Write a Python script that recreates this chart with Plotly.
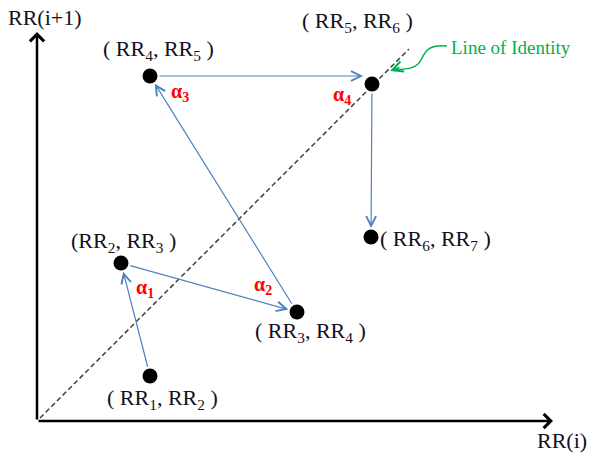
import plotly.graph_objects as go

# ---- data (diagram coordinates: RR(i) on x, RR(i+1) on y) ----
rr_i = [113, 84, 260, 113, 335, 334]
rr_i1 = [45, 158, 109, 345, 337, 184]
point_labels = [
    "( RR<sub>1</sub>, RR<sub>2</sub> )",
    "(RR<sub>2</sub>, RR<sub>3</sub> )",
    "( RR<sub>3</sub>, RR<sub>4</sub> )",
    "( RR<sub>4</sub>, RR<sub>5</sub> )",
    "( RR<sub>5</sub>, RR<sub>6</sub> )",
    "( RR<sub>6</sub>, RR<sub>7</sub> )",
]
angle_labels = ["α<sub>1</sub>", "α<sub>2</sub>", "α<sub>3</sub>", "α<sub>4</sub>"]
identity_span = [3, 372]
x_axis_max = 516
y_axis_max = 389
x_title = "RR(i)"
y_title = "RR(i+1)"
identity_title = "Line of Identity"

# ---- styling / placement (pixel offsets) ----
label_shift = [(12, -23), (2, 21), (13, -20), (8, 26), (-15, 62), (64, -3)]
angle_shift = [(24, -25), (-34, 27), (30, -16), (-30, -11)]  # at vertices 2..5
BLUE = "#4f81bd"
RED = "#ff0000"
GREEN = "#00b050"
TXT = "#111122"
SERIF = "Liberation Serif, Times New Roman, serif"

fig = go.Figure()

# identity line
fig.add_trace(go.Scatter(
    x=identity_span, y=identity_span, mode="lines",
    line=dict(color="#404040", width=1.5, dash="5px,3px"),
    hoverinfo="skip", showlegend=False))

# points
fig.add_trace(go.Scatter(
    x=rr_i, y=rr_i1, mode="markers",
    marker=dict(color="black", size=15),
    hoverinfo="skip", showlegend=False))

ann = []
# axes with arrows
ann.append(dict(x=0, y=y_axis_max, ax=0, ay=0, xref="x", yref="y", axref="x", ayref="y",
                text="", showarrow=True, arrowhead=4, arrowsize=1.1, arrowwidth=2.5,
                arrowcolor="black"))
ann.append(dict(x=x_axis_max, y=0, ax=0, ay=0, xref="x", yref="y", axref="x", ayref="y",
                text="", showarrow=True, arrowhead=4, arrowsize=1.1, arrowwidth=2.5,
                arrowcolor="black"))

# path arrows between consecutive points
for k in range(len(rr_i) - 1):
    x0, y0 = rr_i[k], rr_i1[k]
    x1, y1 = rr_i[k + 1], rr_i1[k + 1]
    if k == 3:
        y1 = y0  # drawn level in the reference
    ann.append(dict(x=x1, y=y1, ax=x0, ay=y0, xref="x", yref="y", axref="x", ayref="y",
                    text="", showarrow=True, arrowhead=5, arrowsize=1.6, arrowwidth=1.2,
                    arrowcolor=BLUE, standoff=9, startstandoff=8))

# point labels
for k, lab in enumerate(point_labels):
    dx, dy = label_shift[k]
    ann.append(dict(x=rr_i[k], y=rr_i1[k], xref="x", yref="y", text=lab, showarrow=False,
                    xshift=dx, yshift=dy, font=dict(family=SERIF, size=22, color=TXT)))

# angle labels
for k, lab in enumerate(angle_labels):
    dx, dy = angle_shift[k]
    ann.append(dict(x=rr_i[k + 1], y=rr_i1[k + 1], xref="x", yref="y",
                    text="<b>" + lab + "</b>", showarrow=False,
                    xshift=dx, yshift=dy, font=dict(family=SERIF, size=20, color=RED)))

# axis titles
ann.append(dict(x=0, y=y_axis_max, xref="x", yref="y", text=y_title, showarrow=False,
                xshift=8, yshift=15, font=dict(family=SERIF, size=22, color=TXT)))
ann.append(dict(x=x_axis_max, y=0, xref="x", yref="y", text=x_title, showarrow=False,
                xshift=9, yshift=-19, font=dict(family=SERIF, size=22, color=TXT)))

# line of identity callout
ann.append(dict(x=412, y=374, xref="x", yref="y", text=identity_title, showarrow=False,
                xanchor="left", font=dict(family=SERIF, size=19, color=GREEN)))
ann.append(dict(x=353, y=350, ax=364, ay=354, xref="x", yref="y", axref="x", ayref="y",
                text="", showarrow=True, arrowhead=5, arrowsize=1.4, arrowwidth=1.5,
                arrowcolor=GREEN))

fig.add_shape(type="path", xref="x", yref="y",
              path="M 410 375 C 391 377 388 369 384 361 S 372 352 358 351",
              line=dict(color=GREEN, width=1.5))

fig.update_layout(
    width=591, height=460,
    margin=dict(l=0, r=0, t=0, b=0),
    paper_bgcolor="white", plot_bgcolor="white",
    xaxis=dict(range=[-37, 554], visible=False, fixedrange=True),
    yaxis=dict(range=[-39, 421], visible=False, fixedrange=True),
    annotations=ann,
    showlegend=False,
)

fig.write_html("out.html", config={"displayModeBar": False},
               post_script="document.body.style.margin='0';")
